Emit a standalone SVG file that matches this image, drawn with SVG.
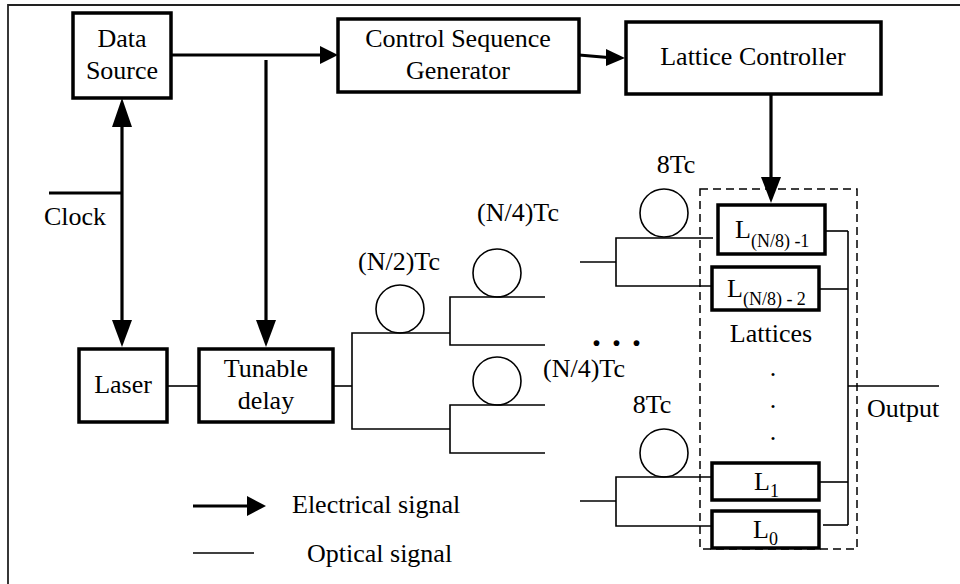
<svg xmlns="http://www.w3.org/2000/svg" width="960" height="584" viewBox="0 0 960 584">
<style>
  .box{fill:#fff;stroke:#000;stroke-width:3.5}
  .el{stroke:#000;stroke-width:3.2;fill:none}
  .op{stroke:#000;stroke-width:1.6;fill:none}
  .coil{fill:none;stroke:#000;stroke-width:1.6}
  .ah{fill:#000;stroke:none}
  .frame{stroke:#222;stroke-width:1.8;fill:none}
  .dash{fill:none;stroke:#000;stroke-width:1.5;stroke-dasharray:8 5}
  text{font-family:"Liberation Serif","Times New Roman",serif;font-size:26px;fill:#000}
  .c{text-anchor:middle}
  .sub{font-size:18px}
</style>
<rect width="960" height="584" fill="#fff"/>
<path class="frame" d="M8,584 V5 H960"/>

<g id="connectors">
  <!-- electrical -->
  <line class="el" x1="171" y1="55" x2="322" y2="55"/>
  <polygon class="ah" points="338,55 320,46 320,64"/>
  <line class="el" x1="266" y1="60" x2="266" y2="322"/>
  <polygon class="ah" points="266,347 256,320 276,320"/>
  <line class="el" x1="579" y1="55" x2="608" y2="57.5"/>
  <polygon class="ah" points="625,58 606,49 606,66"/>
  <line class="el" x1="771" y1="94" x2="771" y2="180"/>
  <polygon class="ah" points="771,203 761,177 781,177"/>
  <line class="el" x1="122" y1="124" x2="122" y2="322"/>
  <polygon class="ah" points="122,98 112,127 132,127"/>
  <polygon class="ah" points="122,347 112,320 132,320"/>
  <line class="el" x1="49" y1="193" x2="122" y2="193"/>
  <!-- optical -->
  <line class="op" x1="167" y1="386" x2="199" y2="386"/>
  <line class="op" x1="333" y1="386" x2="352" y2="386"/>
  <path class="op" d="M450,333 H352 V429 H450"/>
  <path class="op" d="M545,297 H450 V345 H545"/>
  <path class="op" d="M545,405 H450 V453 H545"/>
  <line class="op" x1="580" y1="262" x2="616" y2="262"/>
  <path class="op" d="M713,238 H616 V286 H712"/>
  <line class="op" x1="580" y1="501" x2="616" y2="501"/>
  <path class="op" d="M712,477 H616 V526 H711"/>
  <line class="op" x1="848" y1="231" x2="848" y2="525"/>
  <line class="op" x1="825" y1="231" x2="848" y2="231"/>
  <line class="op" x1="819" y1="289" x2="848" y2="289"/>
  <line class="op" x1="819" y1="482" x2="848" y2="482"/>
  <line class="op" x1="823" y1="525" x2="848" y2="525"/>
  <line class="op" x1="848" y1="386" x2="939" y2="386"/>
</g>

<g id="data-source">
  <rect class="box" x="73" y="13" width="98" height="85"/>
  <text class="c" x="122" y="47">Data</text>
  <text class="c" x="122" y="79">Source</text>
</g>
<g id="control-sequence-generator">
  <rect class="box" x="338" y="19" width="241" height="73"/>
  <text class="c" x="458" y="47">Control Sequence</text>
  <text class="c" x="458" y="79">Generator</text>
</g>
<g id="lattice-controller">
  <rect class="box" x="626" y="22" width="255" height="72"/>
  <text class="c" x="753" y="65">Lattice Controller</text>
</g>
<g id="clock">
  <text x="44" y="225">Clock</text>
</g>
<g id="laser">
  <rect class="box" x="79" y="349" width="88" height="73"/>
  <text class="c" x="123" y="393">Laser</text>
</g>
<g id="tunable-delay">
  <rect class="box" x="199" y="349" width="134" height="73"/>
  <text class="c" x="266" y="377">Tunable</text>
  <text class="c" x="266" y="409">delay</text>
</g>

<g id="delay-n2">
  <circle class="coil" cx="400" cy="309" r="24"/>
  <text class="c" x="399" y="270">(N/2)Tc</text>
</g>
<g id="delay-n4-top">
  <circle class="coil" cx="497" cy="273" r="24"/>
  <text x="477" y="221">(N/4)Tc</text>
</g>
<g id="delay-n4-bottom">
  <circle class="coil" cx="497" cy="381" r="24"/>
  <text x="543" y="377">(N/4)Tc</text>
</g>
<g id="ellipsis">
  <text x="592" y="346" style="font-size:36px;font-weight:bold;letter-spacing:11px">...</text>
</g>
<g id="delay-8-top">
  <circle class="coil" cx="664" cy="213" r="24"/>
  <text class="c" x="676" y="173">8Tc</text>
</g>
<g id="delay-8-bottom">
  <circle class="coil" cx="664" cy="453" r="24"/>
  <text class="c" x="652" y="413">8Tc</text>
</g>

<g id="lattices">
  <rect class="dash" x="700" y="189" width="157" height="360"/>
  <text class="c" x="771" y="342">Lattices</text>
  <text class="c" x="773" y="376">.</text>
  <text class="c" x="773" y="408">.</text>
  <text class="c" x="773" y="440">.</text>
</g>
<g id="lattice-n8-1">
  <rect class="box" x="718" y="205" width="107" height="49"/>
  <text x="735" y="238">L<tspan class="sub" dy="9">(N/8) -1</tspan></text>
</g>
<g id="lattice-n8-2">
  <rect class="box" x="712" y="267" width="107" height="43"/>
  <text x="727" y="297">L<tspan class="sub" dy="8">(N/8) - 2</tspan></text>
</g>
<g id="lattice-1">
  <rect class="box" x="712" y="463" width="107" height="37"/>
  <text x="754" y="490">L<tspan class="sub" dy="7">1</tspan></text>
</g>
<g id="lattice-0">
  <rect class="box" x="712" y="511" width="107" height="37"/>
  <text x="753" y="538">L<tspan class="sub" dy="7">0</tspan></text>
</g>
<g id="output">
  <text x="867" y="417">Output</text>
</g>

<g id="legend">
  <line class="el" x1="193" y1="506" x2="249" y2="506"/>
  <polygon class="ah" points="266,506 247,496 247,516"/>
  <text x="292" y="513">Electrical signal</text>
  <line class="op" x1="193" y1="553" x2="254" y2="553"/>
  <text x="307" y="562">Optical signal</text>
</g>
</svg>
